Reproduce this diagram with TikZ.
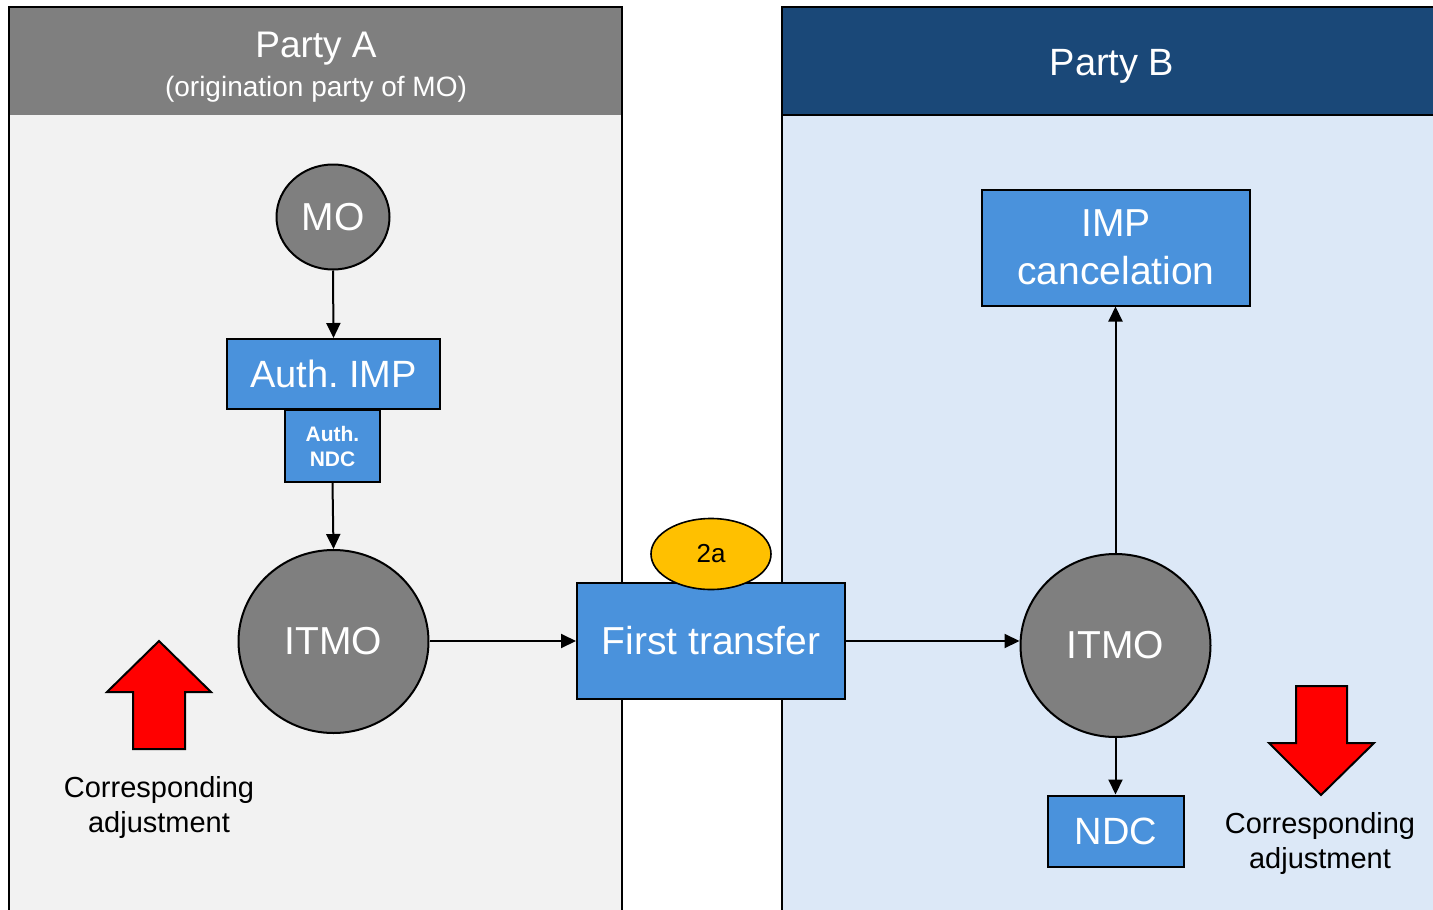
\documentclass[tikz,border=0pt]{standalone}
\usepackage{fontspec}
\setmainfont{Liberation Sans}
\usetikzlibrary{shapes.geometric,arrows.meta}
\definecolor{hdrA}{HTML}{7F7F7F}
\definecolor{bodyA}{HTML}{F2F2F2}
\definecolor{hdrB}{HTML}{1A4878}
\definecolor{bodyB}{HTML}{DCE8F7}
\definecolor{boxblue}{HTML}{4A92DC}
\definecolor{circgray}{HTML}{7F7F7F}
\definecolor{tag}{HTML}{FFC000}
\frenchspacing
\tikzset{
  fs/.style={font=\fontsize{#1}{48}\selectfont},
  bluebox/.style={draw=black, line width=2pt, fill=boxblue, text=white, align=center, inner sep=0pt},
  graycirc/.style={ellipse, draw=black, line width=2pt, fill=circgray, text=white, inner sep=0pt},
  conn/.style={line width=2pt, -{Triangle[length=15pt,width=14pt]}},
  redarrow/.style={draw=black, line width=2pt, fill=red, line join=miter},
  lbl/.style={align=center, text=black, inner sep=0pt}
}
\begin{document}
\begin{tikzpicture}[x=1pt,y=-1pt]
\useasboundingbox (0,0) rectangle (1433,910);
\clip (0,0) rectangle (1433,910);
% Panel A
\fill[bodyA] (9,115) rectangle (622,915);
\fill[hdrA] (9,7) rectangle (622,115);
\draw[line width=2pt] (9,915) -- (9,7) -- (622,7) -- (622,915);
\node[text=white, fs=37, inner sep=0pt] (pa) at (316,49) {Party A};
\node[text=white, fs=28, inner sep=0pt] (pasub) at (316,89) {(origination party of MO)};
% Panel B
\fill[bodyB] (782,115) rectangle (1440,915);
\fill[hdrB] (782,7) rectangle (1440,115);
\draw[line width=2pt] (782,915) -- (782,7) -- (1440,7);
\draw[line width=2pt] (782,115) -- (1440,115);
\node[text=white, fs=38, inner sep=0pt] (pb) at (1112,66) {Party B};
% Nodes left
\node[graycirc, minimum width=113pt, minimum height=105pt, fs=39] (mo) at (333,217) {MO};
\node[bluebox, minimum width=213pt, minimum height=70pt, fs=38] (aimp) at (333.5,374) {Auth. IMP};
\node[bluebox, minimum width=95pt, minimum height=72pt, font=\fontsize{21}{25}\selectfont\bfseries] (andc) at (332.5,446) {Auth.\\NDC};
\node[graycirc, minimum width=190pt, minimum height=183pt, fs=39] (itmoa) at (333.5,641.5) {ITMO};
% Middle
\node[bluebox, minimum width=268pt, minimum height=116pt, fs=39] (ft) at (711,641) {First transfer};
\node[ellipse, draw=black, line width=1.6pt, fill=tag, minimum width=120pt, minimum height=71pt, inner sep=0pt, fs=26] (tag2a) at (711,554) {2a};
% Right nodes
\node[graycirc, minimum width=190pt, minimum height=183pt, fs=39] (itmob) at (1115.5,645.5) {ITMO};
\node[bluebox, minimum width=268pt, minimum height=116pt, font=\fontsize{39}{48}\selectfont] (impc) at (1116,247.5) {IMP\\cancelation};
\node[bluebox, minimum width=136pt, minimum height=71pt, fs=38] (ndc) at (1116,831) {NDC};
% Connectors
\draw[conn] (mo.south) -- (aimp.north);
\draw[conn] (andc.south) -- (itmoa.north);
\draw[conn] (ft.west -| itmoa.east) -- (ft.west);
\draw[conn] (ft.east) -- (ft.east -| itmob.west);
\draw[conn] (itmob.north) -- (itmob.north |- impc.south);
\draw[conn] (itmob.south) -- (itmob.south |- ndc.north);
% Red arrows
\draw[redarrow] (159,641) -- (211,692) -- (185,692) -- (185,749) -- (133,749) -- (133,692) -- (107,692) -- cycle;
\draw[redarrow] (1321,795) -- (1374,743) -- (1347,743) -- (1347,686) -- (1296,686) -- (1296,743) -- (1269,743) -- cycle;
\node[lbl, font=\fontsize{29}{35}\selectfont] (cal) at (159,807) {Corresponding\\adjustment};
\node[lbl, font=\fontsize{29}{35}\selectfont] (car) at (1320,843) {Corresponding\\adjustment};
\end{tikzpicture}
\end{document}
